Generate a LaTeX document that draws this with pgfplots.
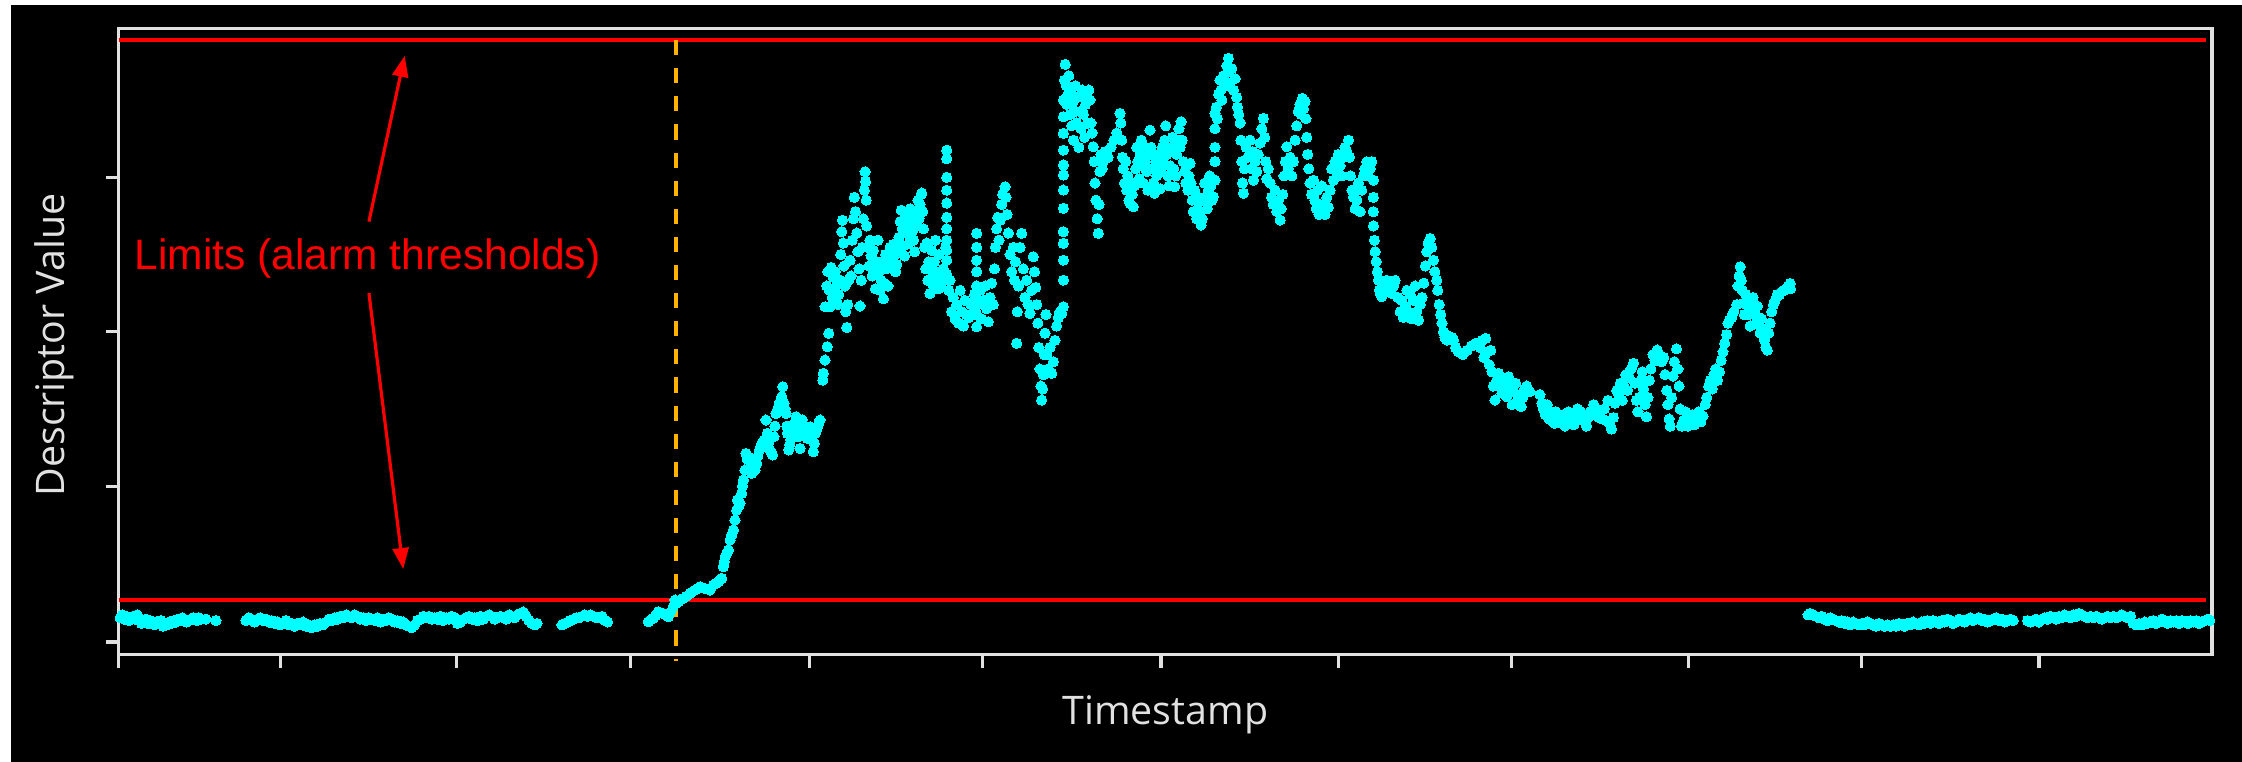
\documentclass[border=0pt]{standalone}
\usepackage{pgfplots}
\usepackage{pgfplotstable}
\pgfplotsset{compat=1.18}
\usepackage{fontspec}
\setmainfont{Open Sans}
\newfontfamily\arialfont{Liberation Sans}
\usetikzlibrary{arrows.meta}
\definecolor{lgray}{RGB}{225,225,225}
\definecolor{dashorange}{RGB}{255,178,0}
\definecolor{pcyan}{RGB}{0,255,255}

\pgfplotstableread{
x v
84 26
85.5 28
87 25
88.5 27
90 24
91.5 26
93 27
94.5 25
96 28
97.5 24
99 22
100.5 23
102 25
103.5 22
105 24
106.5 23
108 21
109.5 23
111 22
112.5 24
114 20
115.5 22
117 21
118.5 23
120 22
121.5 24
123 23
124.5 25
126 24
127.5 26
129 25
130.5 23
132 24
133.5 25
135 26
136.5 25
138 24
139 26
144 25
151 24
172 24
174 26
176 25
178 23
180 25
182 26
184 24
186 25
188 23
190 24
192 22
194 23
196 21
198 22
200 24
202 21
204 22
206 20
208 22
210 21
212 23
214 20
216 21
218 19
220 21
222 20
224 22
226 21
228 23
230 25
232 24
234 26
236 25
238 27
240 26
242 28
244 27
246 26
248 28
250 27
252 25
254 26
256 24
258 26
260 25
262 24
264 26
266 23
268 25
270 24
272 26
274 25
276 23
278 24
280 22
282 23
284 21
286 20
288 19
290 21
292 24
294 25
296 27
298 26
300 27
302 25
304 26
306 25
308 27
310 24
312 26
314 25
316 27
318 26
320 22
322 23
324 25
326 26
328 27
330 25
332 26
334 24
336 27
338 25
340 27
342 28
344 27
346 25
348 26
350 27
352 26
354 25
356 28
358 27
360 26
362 28
364 29
366 30
368 27
370 24
372 22
374 21
375.5 22
393 21
395 22
397 23
399 24
401 25
403 26
405 26
407 27
409 28
411 27
413 28
415 27
417 26
419 26
421 27
423 24
425 23
453.4 23.2
455 24.5
456.9 25.5
458.5 27.5
460.4 30.2
462 29.5
463.9 29.0
465.5 28
467.4 26.7
469 30
470.9 33.7
472.1 38.4
473 36
474.4 37.2
476 38.5
477.9 39.5
480 41
482.6 43.0
484 44
486.1 45.4
488 46.5
489.6 47.7
491 47
493.1 46.5
495 46
496.6 45.4
498.9 48.9
500.5 50
502.4 51.2
503.5 52.5
504.7 53.5
505.9 61.7
506.5 65
507.1 68.7
508.2 71
509.4 73.3
510.6 80.3
511.8 84
512.9 87.3
514.0 94.3
515.2 101.3
515.7 108.3
516.6 104
517.5 106.0
518.7 113.0
519.3 118
519.9 122.3
521.0 129.3
521.7 140.9
522.5 137
523.4 138.6
524.5 131.6
525.7 127.0
527 130
528.0 129.3
529.2 134.0
530 139
531.1 143.3
532 146
532.7 147.9
534.3 150.3
535.7 164.3
536.7 154.9
537.5 148
538.5 143.3
539.5 141
540.4 139.8
541.3 152.6
542 160
542.7 168.9
543.5 171
544.4 173.6
545.5 177
546.7 180.6
547.4 187.6
548.3 175.9
549 172
549.7 168.9
550.2 160
550.7 154.9
551.6 143.3
552.3 147
553.0 150.3
554 155
554.9 159.6
556 163
556.7 166.6
557.5 160
558.3 152.6
559.5 144.4
560.3 155
561.1 164.3
562 160
563.0 157.3
564.6 151.4
565.5 155
566.5 159.6
567.9 150.3
568.8 142.1
569.5 148
570.2 154.9
571 157
571.9 159.6
572.7 162
573.5 164.3
575.4 192.2
575.8 196.9
577.0 206.2
578.6 215.6
579.6 224.9
580.5 243.5
577.0 243.5
578.2 258
579 268
580 255
581.3 271
582 250
582.8 264
583.5 256
584.2 268
585.2 259
586 245
586.5 252
587.5 262
588 280
588.7 296
589.2 304
589.8 288
590.3 272
591.0 258
591.5 240
592.2 229
592.8 245
593.5 262
594.5 276
595.2 265
596 290
596.8 305
597.5 320
598.3 310
599.2 295
600 282
600.8 270
601.5 244
602.3 262
603 285
603.8 305
604.5 325
605.0 337.9
605.3 331
605.8 318
606.1 300
607 285
607.8 272
608.5 290
609.2 279
610 265
610.8 283
611.5 270
612.2 256
613.1 275
614 290
614.8 268
615.5 255
616.3 262
617 275
617.8 249
618.5 260
619.3 280
620.1 270
621 258
621.8 275
622.5 285
623.3 278
624 270
624.8 287
625.6 280
626.4 268
627.1 273
628 285
628.7 292
629.5 303
630.3 311
631 298
631.8 286
632.6 279
633.4 295
634.1 307
635 300
635.7 288
636.5 312
637.2 305
638 296
638.8 290
639.6 282
640.4 300
641.1 310
642 318
642.7 305
643.4 315
644.2 322
644.6 323
645.3 310
645.8 298
646.6 285
647.4 270
648.1 288
648.9 262
649.5 275
650.4 252.8
651 270
651.6 283
652.3 265
652.8 258
653.5 275
654.2 290
655.1 268
655.9 256
656.6 280
657.4 262
658.5 257
659.7 270
660.5 265
661.3 285
662.1 353.0
662.1 347
662.1 334
662.1 325
662.1 316
662.1 306
662.1 298
662.1 290
662.1 283
662.1 276
662.1 266
663.5 255
664.4 262
665.5 240
666.7 250
668 235
669 245
670.5 232
671.5 255
672.7 240
673.8 230
674.8 248
676 238
677.5 236
679 245
680.5 240
681.5 252
683 294.8
683 285
683 276
683 268
683 258
683 248
683 238
683 229.5
684.2 245
685.4 255
686.5 235
687.7 248
689 258
690 242
691.2 233
692.4 250
693.5 260
694.7 245
695.5 270
696.2 285
697 298
697.8 306
698.6 290
699.4 304
700.5 315
701.2 322
702.9 327.4
703.5 320
704.3 308
705.2 295
706.4 280
707.5 268
708.7 285
709.5 262
710.2 275
711 217.9
711.5 240
712.3 258
713.4 285
714.5 294.8
715.7 270
716.8 250
718 262
719 245
720.3 238.8
721.5 255
722.7 278.5
723.5 268
724.3 257
725 245
725.8 232
726.5 215
727.3 200
728 188
728.5 178.2
729.2 186
729.7 196
730.3 210
730.8 225
731.5 238
732 210
733 200
734.3 215
735.5 196.9
736.7 205
737.8 220
739 230
740.2 236
741.3 240
742.5 238.8
743.7 243.5
743.7 262.1
743.7 276.1
743.7 287.8
743.7 296.0
743.7 312.3
743.7 325.1
743.7 335.6
743.7 342.6
743.7 353.0
743.7 364.7
743.7 376.4
743.7 388.1
744.5 402
745 413
745.8 398
746 385
746.8 392
747.5 405
748.3 378
749 395
749.5 370
750.2 386
750.7 360
751.5 380
752.2 398
753 372
753.8 390
754.5 355
755.3 380
756 368
756.8 395
757.7 378
758.5 362
759.2 385
760 390
760.8 372
761.5 395
762.3 388.1
763 372
763.8 365
764.6 355.4
765.2 345
765.8 330
766.5 318
767.3 305
768.1 294.8
768.6 315
769.3 338
770 350
770.8 340
771.6 345
773 352
775 348
777 355
779 360
781 365
783.3 378.7
783.8 372
784.5 360
785 348
785.6 340
786.5 330
787.2 345
788 325
788.8 335
789.5 318
790.3 315.8
791 330
791.8 322
792.6 313.4
793.5 328
794.2 340
795 355
795.8 345
796.6 333
797.4 350
798.2 360
799 342
799.6 330
800.5 345
801.3 355
802 338
802.8 325
803.6 350
804.3 367
805 355
805.8 340
806.6 330
807.4 322.8
808.2 345
808.9 335
809.7 350
810.5 340
811.3 326
812 338
812.8 355
813.6 345
814.5 360
815.3 370
816 350
816.8 335
817.6 328
818.3 342
819 355
820 362
820.8 340
821.5 327.4
822.2 335
822.9 350
823.7 360
824.5 368
825.3 355
826 372.9
826.8 360
827.6 345
828.5 338
829.3 330
830 342
830.8 325
831.5 335
832.3 343.8
833 330
833.8 318
834.6 310
835.4 325
836.2 318
836.9 305
837.7 312
838.5 320
839.3 310
840 300.6
840.8 305
841.6 318
842.5 330
843.3 320
844.2 312
845 325
846 335
846.8 328
847.6 318
848.6 320.4
849.7 332
849.7 345
849.7 355
849.7 368
849.7 378.7
850.6 383
851.4 375
852.2 392
853.2 402
853.8 395
854.5 388
855.6 405
856.8 398
858 412
859.1 417.2
859.7 408
860.3 400
861.5 410
862.6 395
863.8 403
864.9 390
865.5 383
866.3 378
867.3 372
867.8 360
868.5 345
869 330
869.6 322.8
870.3 340
871.5 355
872.7 348
874.3 360
875.2 340
876 352
876.6 332
877.8 345
878.9 338
880 350
881.3 358
882.5 368
883.6 375.2
884.5 362
885.2 345
885.9 333
887 340
888.3 330
889.3 320
890.6 315
891.8 325
892.9 310
894 318
895.3 304.1
896 312
897 322
898 335
899 345
899.9 355.4
901 340
902.3 348
903.5 335
904.6 345
905.8 360
906.9 370
908 380
909.2 385
910 378
910.8 389.2
911.6 382
912.7 387
913.3 375
913.9 362
914.5 350
915.3 340
916.2 330
917.2 322
918.6 332
919.5 318
920.5 312
921.5 325
922.5 308
923.5 315
924.5 328
925.6 315
926.7 308
927.9 320
929 313
930.2 325
931.3 340
932.6 332
933.7 345
934.9 338
936 350
937.2 342
938.3 335
939.6 348
940.7 355
941.9 352
943.1 360
943.8 348
944.5 335
945.5 325
946.6 320
947.7 312
948.9 318
950 330
951.2 310
952.3 325
953.5 335
954.5 340
955.9 344.9
957 335
958.2 340
959.3 345
960.5 332
960.5 320
960.5 310
960.5 300
961.2 290
961.7 282
962.5 275
963.3 268
964 262
964.8 255
965.6 252
966.4 250.5
967.5 255
968.5 258
969.9 262
971 258
972.2 255
973.3 252.8
974.5 258
975.7 262
977.5 250
979.2 240
980.3 248
981.5 236
982.7 244
983.9 255
985 240
986.2 252
987.3 235
988.5 248
989.7 258
990.8 240
992 234
993.2 245
994.5 250
995.7 260
996.8 272
997.8 282
998.8 288
1000.2 291.3
1001.3 285
1002.5 276
1003.5 268
1004.8 262
1005.5 255
1006.5 245
1007.5 238
1008.5 232
1009.5 226
1010.5 222
1011.8 220.2
1013 223
1014.2 221
1015.5 222
1016.5 220
1018 215
1020 212
1023 210
1026 213
1029 216
1032 218
1035.1 215
1036.5 220
1037.8 208
1039 221.4
1040.2 212
1041.5 203
1042.6 213
1043.5 198
1044.4 188
1045.6 178.2
1046.8 192
1048 196.9
1049.2 188
1050.4 183
1051.6 192
1052.8 186
1053.8 180.6
1055 194.6
1056.3 188
1057.5 175
1058.7 184
1060 190
1061.2 178
1062.5 182
1063.8 173.6
1065 180
1066.3 186
1067.7 188
1070 184.1
1077 182
1078.3 176
1079.5 172
1080.7 168
1082 175
1083.2 165
1084.5 170
1085.7 166
1087 162
1088.2 170
1089.5 165
1090.7 168
1092 162
1093.2 168
1094.5 160
1095.7 166
1097 170
1098.2 163
1099.5 167
1100.7 161
1102 165
1103.2 172
1104.5 165
1105.7 170
1107 164
1108.2 167
1109.5 160
1110.7 166
1112 170
1113.2 168
1114.5 175
1115.7 168
1117 172
1118.2 166
1119.5 170
1120.7 165
1122 172
1123.2 164
1124.5 178
1125.7 162
1127 158
1128.4 166
1129.5 176
1130.7 185
1132 182
1133.2 190
1134.5 178
1135.7 188
1137 196
1138.2 185
1139.5 194
1140.7 200
1142.4 203.9
1143.5 190
1144.5 178
1145.5 170
1146.5 180
1147.5 192
1148.5 198
1149.5 186
1150.5 175
1151.5 166.6
1152.5 180
1153.5 192
1154.5 200
1156 210
1157.5 206
1159 213.2
1160.5 210
1162 205
1163.5 208
1164.5 196
1165.7 185
1166.5 175
1167.3 165
1168.1 160
1169 180
1170 195
1171 205
1172.5 214
1173.5 200
1174.3 188
1175 172
1176 160
1177.5 164
1179 170
1180.5 160
1182 163
1183.5 168
1185 161
1186.5 165
1188 170
1189.5 163
1191 167
1192.5 175
1193.6 180
1195 188
1196.2 192
1197.5 186
1198.7 196
1200 200
1201.2 192
1202.5 198
1203.7 206
1205 212
1206.2 218
1207.5 224
1208.5 232
1209.5 234.2
1211 236
1212.5 240
1214.6 245
1215.5 258
1216.3 265
1217 271.5
1217.8 262
1218.5 255
1219.3 246
1220 238
1221 252
1222 245
1223 238
1224 230
1225 245
1226 250
1227 240
1228 232
1229 244
1230 236
1231 225
1232 235
1233 228
1234 220
1235 215
1236 213.2
1237 225
1238 232
1239 240
1240.3 245
1241.5 248
1243 252
1244.5 252
1246 254
1247.5 255
1249 256
1250.5 258
1252 259.8
1252.3 256
1264.5 28
1266 29
1268 28
1270 27
1272 26
1274 27
1276 25
1278 24
1280 26
1282 25
1284 24
1286 23
1288 24
1290 22
1292 23
1294 21
1296 23
1298 22
1300 21
1302 22
1304 21
1306 23
1308 22
1310 21
1312 20
1314 22
1316 21
1318 20
1320 21
1322 20
1324 21
1326 20
1328 22
1330 21
1332 20
1334 22
1336 21
1338 23
1340 22
1342 21
1344 23
1346 22
1348 24
1350 22
1352 24
1354 23
1356 22
1358 24
1360 23
1362 25
1364 24
1366 22
1368 23
1370 25
1372 24
1374 23
1376 25
1378 26
1380 24
1382 25
1384 26
1386 24
1388 25
1390 23
1392 24
1394 25
1396 26
1398 24
1400 25
1402 23
1404 24
1406 25
1408 24
1418 24
1420 23
1422 24
1424 25
1426 23
1428 25
1430 26
1432 25
1434 27
1436 26
1438 25
1440 27
1442 26
1444 28
1446 27
1448 26
1450 28
1452 27
1454 29
1456 28
1458 27
1460 26
1462 27
1464 26
1466 27
1468 26
1470 25
1472 26
1474 27
1476 26
1478 27
1480 26
1482 27
1484 28
1486 27
1488 26
1490 27
1492 22
1494 21
1496 22
1498 21
1500 23
1502 22
1504 23
1506 24
1508 22
1510 23
1512 25
1514 23
1516 22
1518 24
1520 23
1522 24
1524 22
1526 24
1528 23
1530 22
1532 24
1534 23
1536 24
1538 22
1540 23
1542 24
1544 25
1545.5 24
}\descdata

\begin{document}
\begin{tikzpicture}
\useasboundingbox (0,0) rectangle (22.42,7.62);
\fill[white] (0,0) rectangle (22.42,7.62);
\fill[black] (0.11,0) rectangle (22.42,7.57);
\begin{axis}[
  at={(1.187cm,1.071cm)}, anchor=south west,
  scale only axis, width=20.933cm, height=6.263cm,
  xmin=83, xmax=1547, ymin=0, ymax=438,
  axis line style={lgray, line width=0.9pt},
  xtick={83,196,319,441,566,687,812,936,1057,1181,1302,1426},
  ytick={9,118,226,334},
  xticklabels={}, yticklabels={},
  xtick pos=lower, ytick pos=left,
  tick align=outside,
  major tick length=3.6pt,
  tick style={lgray, line width=0.9pt},
  clip=false,
  xlabel={Timestamp}, ylabel={Descriptor Value},
  label style={font=\fontsize{11.2}{13}\selectfont, text=lgray},
  xlabel style={at={(axis description cs:0.5,-0.0958)}, anchor=center},
  ylabel style={at={(axis description cs:-0.0308,0.495)}, anchor=center, rotate=0},
]
\draw[red, line width=1.1pt] (axis cs:83,430) -- (axis cs:1543,430);
\draw[red, line width=1.1pt] (axis cs:83,38.5) -- (axis cs:1543,38.5);
\draw[dashorange, line width=1.1pt, dash pattern=on 4.3pt off 3.7pt] (axis cs:473,430) -- (axis cs:473,-4);
\addplot[only marks, mark=*, mark size=1.45pt, mark options={fill=pcyan, draw=pcyan, line width=0pt}] table[x=x, y=v] {\descdata};
\draw[red, line width=0.9pt, -{Triangle[length=6pt,width=4.5pt]}] (axis cs:258,303) -- (axis cs:283,419);
\draw[red, line width=0.9pt, -{Triangle[length=6pt,width=4.5pt]}] (axis cs:258,253) -- (axis cs:282,60);
\node[text=red, font=\arialfont\fontsize{12.1}{14}\selectfont, anchor=center, fill=black, inner sep=1pt] at (axis cs:257,277) {Limits (alarm thresholds)};
\end{axis}
\end{tikzpicture}
\end{document}
